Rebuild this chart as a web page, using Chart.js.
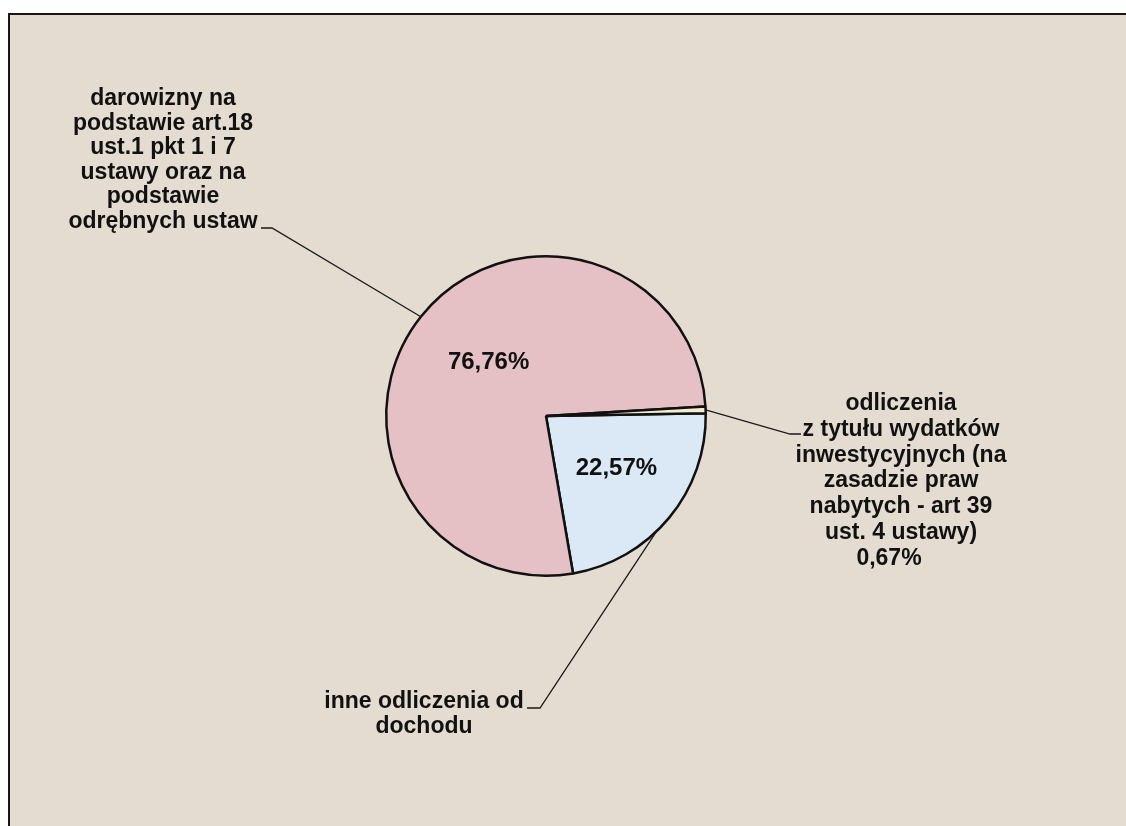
<!DOCTYPE html>
<html>
<head>
<meta charset="utf-8">
<script src="https://cdn.jsdelivr.net/npm/chart.js@4.4.0/dist/chart.umd.min.js"></script>
<style>
  html, body { margin: 0; padding: 0; background: #fff; }
  #wrap { width: 1126px; height: 826px; position: relative; }
</style>
</head>
<body>
<div id="wrap"><canvas id="pieChart" width="1126" height="826"></canvas></div>
<script>
// slice data (clockwise from 3 o'clock)
const categories = [
    'inne odliczenia od dochodu',
    'darowizny na podstawie art.18 ust.1 pkt 1 i 7 ustawy oraz na podstawie odrębnych ustaw',
    'odliczenia z tytułu wydatków inwestycyjnych (na zasadzie praw nabytych - art 39 ust. 4 ustawy)'
];
const shares = [22.57, 76.76, 0.67];

// label text lines as they wrap in the picture
const labelLines = [
    ['inne odliczenia od', 'dochodu'],
    ['darowizny na', 'podstawie art.18', 'ust.1 pkt 1 i 7', 'ustawy oraz na', 'podstawie', 'odrębnych ustaw'],
    ['odliczenia', 'z tytułu wydatków', 'inwestycyjnych (na', 'zasadzie praw', 'nabytych - art 39', 'ust. 4 ustawy)']
];

const sliceColors = ['#dbe8f6', '#e5c1c6', '#f3eccd'];
const bgColor = '#e4dcd0';
const font = '"Liberation Sans", Arial, sans-serif';

function pct(v) {
    return v.toFixed(2).replace('.', ',') + '%';
}

// where the outer labels sit (layout only)
const outerLayout = [
    { frac: 0.58, elbow: [540, 708], dashTo: 527, cx: 424, y0: 708, lh: 25, pctLine: false },
    { frac: 0.5, elbow: [272, 228], dashTo: 261, cx: 163, y0: 105, lh: 24.6, pctLine: false },
    { frac: 0.5, elbow: [790, 434], dashTo: 801, cx: 901, y0: 410, lh: 25.8, pctLine: true, pctX: 889 }
];
// inner percentage labels
const innerLayout = [
    { frac: 0.464, r: 0.55, show: true },
    { frac: 0.516, r: 0.49, show: true },
    { show: false }
];

const backgroundPlugin = {
    id: 'paper',
    beforeDraw(chart) {
        const c = chart.ctx;
        c.save();
        c.fillStyle = '#ffffff';
        c.fillRect(0, 0, chart.width, chart.height);
        c.fillStyle = bgColor;
        c.fillRect(9, 14, chart.width - 9, chart.height - 14);
        c.strokeStyle = '#1a1414';
        c.lineWidth = 2;
        c.beginPath();
        c.moveTo(9, chart.height);
        c.lineTo(9, 14);
        c.lineTo(chart.width, 14);
        c.stroke();
        c.restore();
    }
};

const labelPlugin = {
    id: 'pieLabels',
    afterDatasetsDraw(chart) {
        const c = chart.ctx;
        const arcs = chart.getDatasetMeta(0).data;
        c.save();
        c.fillStyle = '#111';
        c.textAlign = 'center';
        c.textBaseline = 'alphabetic';

        arcs.forEach((arc, i) => {
            const p = arc.getProps(['x', 'y', 'startAngle', 'endAngle', 'outerRadius'], true);
            // leader line
            const L = outerLayout[i];
            const a = p.startAngle + (p.endAngle - p.startAngle) * L.frac;
            const ex = p.x + Math.cos(a) * p.outerRadius;
            const ey = p.y + Math.sin(a) * p.outerRadius;
            c.strokeStyle = '#1a1a1a';
            c.lineWidth = 1.3;
            c.beginPath();
            c.moveTo(ex, ey);
            c.lineTo(L.elbow[0], L.elbow[1]);
            c.lineTo(L.dashTo, L.elbow[1]);
            c.stroke();

            c.font = 'bold 23px ' + font;
            labelLines[i].forEach((line, k) => {
                c.fillText(line, L.cx, L.y0 + k * L.lh);
            });
            if (L.pctLine) {
                c.fillText(pct(shares[i]), L.pctX, L.y0 + labelLines[i].length * L.lh);
            }

            // percentage inside slice
            const I = innerLayout[i];
            if (I.show) {
                const b = p.startAngle + (p.endAngle - p.startAngle) * I.frac;
                c.font = 'bold 24px ' + font;
                c.textBaseline = 'middle';
                c.fillText(pct(shares[i]), p.x + Math.cos(b) * p.outerRadius * I.r,
                    p.y + Math.sin(b) * p.outerRadius * I.r);
                c.textBaseline = 'alphabetic';
            }
        });
        c.restore();
    }
};

const ctx = document.getElementById('pieChart').getContext('2d');
const pieChart = new Chart(ctx, {
    type: 'pie',
    data: {
        labels: categories,
        datasets: [{
            data: shares,
            backgroundColor: sliceColors,
            borderColor: '#111',
            borderWidth: 2.5
        }]
    },
    options: {
        responsive: false,
        animation: false,
        rotation: 89,
        layout: { padding: { left: 385, right: 419, top: 255, bottom: 249 } },
        plugins: {
            legend: { display: false },
            tooltip: { enabled: false }
        }
    },
    plugins: [backgroundPlugin, labelPlugin]
});
</script>
</body>
</html>
